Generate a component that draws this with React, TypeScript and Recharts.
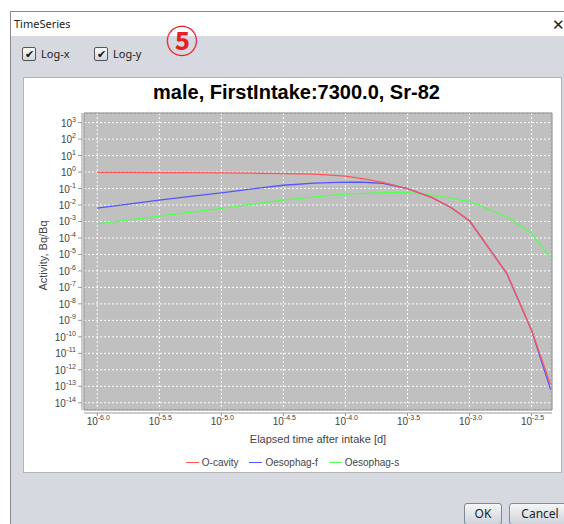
import { CartesianGrid, Label, Legend, Line, LineChart, ReferenceArea, XAxis, YAxis } from "recharts"

// elapsed time after intake [d]
const times = [
  1e-6, 1.78e-6, 3.16e-6, 5.62e-6, 1e-5, 1.78e-5, 3.16e-5, 5.62e-5, 1e-4, 1.41e-4, 2e-4, 3.16e-4, 5e-4, 7.08e-4,
  1e-3, 2e-3, 3.16e-3, 4.5e-3,
]

// activity, Bq/Bq
const oCavity = [
  0.955, 0.955, 0.933, 0.912, 0.891, 0.851, 0.813, 0.741, 0.562, 0.38, 0.234, 0.1, 0.0282, 0.00708, 0.0011, 6.9e-7,
  2.5e-10, 1.3e-13,
]
const oesophagF = [
  6.46e-3, 0.0112, 0.02, 0.0339, 0.055, 0.0955, 0.158, 0.214, 0.245, 0.24, 0.204, 0.1, 0.0282, 0.00708, 0.0011, 6.9e-7,
  2.5e-10, 6.3e-14,
]
const oesophagS = [
  7.24e-4, 1.26e-3, 2.14e-3, 3.63e-3, 6.17e-3, 0.0112, 0.02, 0.0316, 0.0457, 0.0513, 0.0562, 0.0562, 0.0398, 0.0263,
  0.0158, 1.95e-3, 1.86e-4, 6.46e-6,
]

const xTicks = [1e-6, 3.1623e-6, 1e-5, 3.1623e-5, 1e-4, 3.1623e-4, 1e-3, 3.1623e-3]
const yTicks = [1e3, 1e2, 1e1, 1, 1e-1, 1e-2, 1e-3, 1e-4, 1e-5, 1e-6, 1e-7, 1e-8, 1e-9, 1e-10, 1e-11, 1e-12, 1e-13, 1e-14]
const xDomain = [7.82e-7, 4.62e-3]
const yDomain = [3.63e-15, 3837]

const series = [
  { key: "oCavity", name: "O-cavity", color: "#ff5555" },
  { key: "oesophagF", name: "Oesophag-f", color: "#5555ff" },
  { key: "oesophagS", name: "Oesophag-s", color: "#55ff55" },
]

const data = times.map((t, i) => ({ t, oCavity: oCavity[i], oesophagF: oesophagF[i], oesophagS: oesophagS[i] }))

const chartFont = '"Liberation Sans", Arial, sans-serif'
const uiFont = '"Noto Sans", "Open Sans", sans-serif'

function XTick({ x, y, payload }: any) {
  const exp = Math.log10(payload.value).toFixed(1)
  return (
    <g>
      <line x1={x} x2={x} y1={y + 3} y2={y + 6} stroke="#999" />
      <text x={x + 1} y={y + 15} textAnchor="middle" fontSize={10} fill="#444" fontFamily={chartFont}>
        10
        <tspan fontSize={7} dy={-5}>
          {exp}
        </tspan>
      </text>
    </g>
  )
}

function YTick({ x, y, payload }: any) {
  const exp = Math.round(Math.log10(payload.value))
  return (
    <g>
      <line x1={x - 6} x2={x - 2} y1={y} y2={y} stroke="#999" />
      <text x={x - 8} y={y + 4} textAnchor="end" fontSize={10} fill="#444" fontFamily={chartFont}>
        10
        <tspan fontSize={7} dy={-5}>
          {exp}
        </tspan>
      </text>
    </g>
  )
}

function LegendContent() {
  return (
    <div
      style={{
        height: 20,
        display: "flex",
        justifyContent: "center",
        alignItems: "center",
        gap: 11,
        fontFamily: chartFont,
        fontSize: 10,
        color: "#444",
      }}
    >
      {series.map((s) => (
        <div key={s.key} style={{ display: "flex", alignItems: "center", gap: 3 }}>
          <div style={{ width: 13, height: 1, background: s.color }} />
          <span>{s.name}</span>
        </div>
      ))}
    </div>
  )
}

function CheckBox({ label, left }: { label: string; left: number }) {
  return (
    <div style={{ position: "absolute", left, top: 46, display: "flex", alignItems: "center", gap: 5 }}>
      <div
        style={{
          width: 12,
          height: 12,
          border: "1px solid #555",
          borderRadius: 2,
          background: "linear-gradient(#fdfdfd, #d0d4dc)",
          fontSize: 11,
          lineHeight: "12px",
          textAlign: "center",
          color: "#111",
        }}
      >
        ✔
      </div>
      <span style={{ fontFamily: uiFont, fontSize: 11, color: "#222" }}>{label}</span>
    </div>
  )
}

export default function App() {
  return (
    <div style={{ position: "absolute", left: 0, top: 0, width: 564, height: 524, background: "#fff", overflow: "hidden" }}>
      <div
        style={{
          position: "absolute",
          left: 10,
          top: 11,
          width: 600,
          height: 560,
          border: "1px solid #8a8a8a",
          background: "#d6d9df",
        }}
      >
        <div style={{ position: "absolute", left: 0, top: 0, right: 0, height: 24, background: "#fff" }} />
        <div style={{ position: "absolute", left: 3, top: 4, fontFamily: uiFont, fontSize: 11, color: "#222" }}>
          TimeSeries
        </div>
        <div style={{ position: "absolute", left: 541, top: 2, fontFamily: uiFont, fontSize: 15, color: "#222" }}>✕</div>
      </div>

      <CheckBox label="Log-x" left={22} />
      <CheckBox label="Log-y" left={94} />
      <div
        style={{
          position: "absolute",
          left: 166,
          top: 21,
          fontFamily: '"Noto Sans CJK JP", sans-serif',
          fontSize: 32,
          fontWeight: "bold",
          lineHeight: "36px",
          color: "#e81e25",
        }}
      >
        ⑤
      </div>

      <div
        style={{
          position: "absolute",
          left: 24,
          top: 78,
          width: 537,
          height: 394,
          background: "#fff",
          outline: "1px solid #b4b4b4",
        }}
      >
        <div
          style={{
            position: "absolute",
            left: 4,
            top: 4,
            width: 537,
            textAlign: "center",
            fontFamily: chartFont,
            fontWeight: "bold",
            fontSize: 20,
            lineHeight: "20px",
            color: "#000",
          }}
        >
          male, FirstIntake:7300.0, Sr-82
        </div>
        <LineChart width={537} height={394} data={data} margin={{ top: 35, right: 9, left: 0, bottom: 0 }}>
          <CartesianGrid stroke="#fff" strokeDasharray="2 2" fill="#c0c0c0" />
          <ReferenceArea
            x1={xDomain[0]}
            x2={xDomain[1]}
            y1={yDomain[0]}
            y2={yDomain[1]}
            fill="none"
            stroke="#808080"
            ifOverflow="visible"
          />
          <XAxis
            dataKey="t"
            type="number"
            scale="log"
            domain={xDomain}
            ticks={xTicks}
            interval={0}
            allowDataOverflow
            height={42}
            tickSize={0}
            tickMargin={0}
            tickLine={false}
            axisLine={{ stroke: "#999", transform: "translate(0,3)" }}
            tick={<XTick />}
          >
            <Label
              value="Elapsed time after intake [d]"
              position="insideBottom"
              offset={9}
              style={{ fontFamily: chartFont, fontSize: 11, fill: "#444" }}
            />
          </XAxis>
          <YAxis
            type="number"
            scale="log"
            domain={yDomain}
            ticks={yTicks}
            interval={0}
            allowDataOverflow
            width={60}
            tickSize={0}
            tickMargin={0}
            tickLine={false}
            axisLine={{ stroke: "#999", transform: "translate(-2,0)" }}
            tick={<YTick />}
          >
            <Label
              value="Activity, Bq/Bq"
              angle={-90}
              position="center"
              dx={-11}
              dy={-6}
              style={{ fontFamily: chartFont, fontSize: 11, fill: "#444" }}
            />
          </YAxis>
          <Legend
            verticalAlign="bottom"
            height={20}
            wrapperStyle={{ left: 0, width: 537 }}
            content={<LegendContent />}
          />
          {[...series].reverse().map((s) => (
            <Line
              key={s.key}
              type="linear"
              dataKey={s.key}
              name={s.name}
              stroke={s.color}
              strokeWidth={1.3}
              dot={false}
              isAnimationActive={false}
            />
          ))}
        </LineChart>
      </div>

      <div
        style={{
          position: "absolute",
          left: 464,
          top: 503,
          width: 36,
          height: 20,
          border: "1px solid #7f8790",
          borderRadius: 3,
          background: "linear-gradient(#f4f6f8, #cfd4db)",
          fontFamily: uiFont,
          fontSize: 12,
          lineHeight: "20px",
          textAlign: "center",
          color: "#222",
        }}
      >
        OK
      </div>
      <div
        style={{
          position: "absolute",
          left: 509,
          top: 503,
          width: 60,
          height: 20,
          border: "1px solid #6f8fc0",
          borderRadius: 3,
          background: "linear-gradient(#f4f6f8, #cfd4db)",
          fontFamily: uiFont,
          fontSize: 12,
          lineHeight: "20px",
          textAlign: "center",
          color: "#222",
        }}
      >
        Cancel
      </div>
    </div>
  )
}
